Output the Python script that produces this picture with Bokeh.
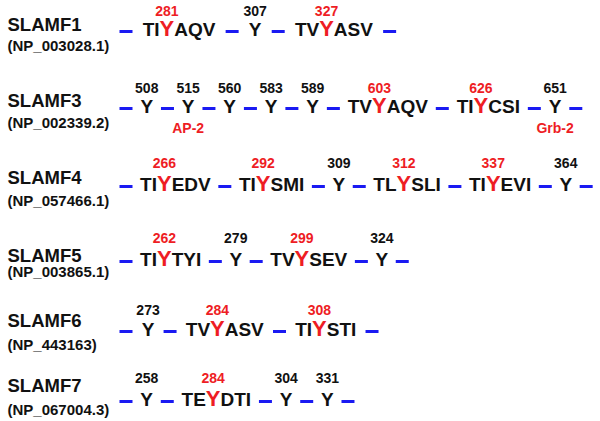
from bokeh.plotting import figure
from bokeh.models import Range1d, ColumnDataSource
from bokeh.core.properties import value
from bokeh.embed import file_html
from bokeh.resources import INLINE

# ---------------- data ----------------
PROTEINS = ["SLAMF1", "SLAMF3", "SLAMF4", "SLAMF5", "SLAMF6", "SLAMF7"]
ACCESSIONS = ["(NP_003028.1)", "(NP_002339.2)", "(NP_057466.1)",
              "(NP_003865.1)", "(NP_443163)", "(NP_067004.3)"]

SLAMF1_MOTIFS = ["TIYAQV", "Y", "TVYASV"]
SLAMF1_SITES = [281, 307, 327]
SLAMF1_ITSM = [1, 0, 1]

SLAMF3_MOTIFS = ["Y", "Y", "Y", "Y", "Y", "TVYAQV", "TIYCSI", "Y"]
SLAMF3_SITES = [508, 515, 560, 583, 589, 603, 626, 651]
SLAMF3_ITSM = [0, 0, 0, 0, 0, 1, 1, 0]

SLAMF4_MOTIFS = ["TIYEDV", "TIYSMI", "Y", "TLYSLI", "TIYEVI", "Y"]
SLAMF4_SITES = [266, 292, 309, 312, 337, 364]
SLAMF4_ITSM = [1, 1, 0, 1, 1, 0]

SLAMF5_MOTIFS = ["TIYTYI", "Y", "TVYSEV", "Y"]
SLAMF5_SITES = [262, 279, 299, 324]
SLAMF5_ITSM = [1, 0, 1, 0]

SLAMF6_MOTIFS = ["Y", "TVYASV", "TIYSTI"]
SLAMF6_SITES = [273, 284, 308]
SLAMF6_ITSM = [0, 1, 1]

SLAMF7_MOTIFS = ["Y", "TEYDTI", "Y", "Y"]
SLAMF7_SITES = [258, 284, 304, 331]
SLAMF7_ITSM = [0, 1, 0, 0]

BINDER_PROTEIN = "SLAMF3"
BINDER_SITES = [515, 651]
BINDER_NAMES = ["AP-2", "Grb-2"]

ROWS = [
    (SLAMF1_MOTIFS, SLAMF1_SITES, SLAMF1_ITSM),
    (SLAMF3_MOTIFS, SLAMF3_SITES, SLAMF3_ITSM),
    (SLAMF4_MOTIFS, SLAMF4_SITES, SLAMF4_ITSM),
    (SLAMF5_MOTIFS, SLAMF5_SITES, SLAMF5_ITSM),
    (SLAMF6_MOTIFS, SLAMF6_SITES, SLAMF6_ITSM),
    (SLAMF7_MOTIFS, SLAMF7_SITES, SLAMF7_ITSM),
]

# ---------------- layout / style ----------------
RED = "#ee1d24"
BLUE = "#1a1af2"
BLACK = "#111111"
FONT = value("Liberation Sans")
ROW_BASELINE = [37, 114, 192, 267, 337, 407]
NUM_BASELINE = [16, 93, 168, 243, 315, 383]
LABEL_BASELINE = [32, 108, 185, 263, 328, 393]
ACC_BASELINE = [51, 128, 206, 277, 350, 415]
ROW_GAP = [10.2, 7.9, 7.6, 7.6, 9.2, 7.8]
X0 = 119
DASH = 13
SEQ_PX = 19
BIG_PX = 22
NUM_PX = 14
LAB_PX = 18.5
ACC_PX = 15
K = 0.42  # renderer baseline correction (fraction of font size)
# Arial/Liberation Sans Bold advance widths (per 1000 em)
ADV = {"T": 611, "I": 278, "Y": 667, "A": 722, "Q": 778, "V": 667, "E": 667,
       "D": 722, "S": 667, "M": 833, "L": 611, "C": 722}


def width(s, px):
    return sum(ADV[c] for c in s) * px / 1000.0


def by(base, px):
    return base - K * px


seq = dict(x=[], y=[], text=[], color=[], size=[])
nums = dict(x=[], y=[], text=[], color=[])
sub = dict(x=[], y=[], text=[])
dash = dict(x0=[], x1=[], y=[])

for r, (motifs, sites, itsm) in enumerate(ROWS):
    base = ROW_BASELINE[r]
    gap = ROW_GAP[r]
    x = X0
    for m, s, red in zip(motifs, sites, itsm):
        dash["x0"].append(x); dash["x1"].append(x + DASH); dash["y"].append(base - 6)
        x += DASH + gap
        if len(m) == 1:
            w = width(m, SEQ_PX)
            seq["x"].append(x); seq["y"].append(by(base, SEQ_PX)); seq["text"].append(m)
            seq["color"].append(RED if red else BLACK); seq["size"].append(f"{SEQ_PX}px")
            cx = x + w / 2
        else:
            pre, yy, post = m[:2], m[2], m[3:]
            wp = width(pre, SEQ_PX)
            ysz = BIG_PX if red else SEQ_PX
            wy = width(yy, ysz)
            wq = width(post, SEQ_PX)
            for t, xx, c, sz in ((pre, x, BLACK, SEQ_PX),
                                 (yy, x + wp, RED if red else BLACK, ysz),
                                 (post, x + wp + wy, BLACK, SEQ_PX)):
                seq["x"].append(xx); seq["y"].append(by(base, sz)); seq["text"].append(t)
                seq["color"].append(c); seq["size"].append(f"{sz}px")
            cx = x + wp + wy / 2
            w = wp + wy + wq
        nums["x"].append(cx); nums["y"].append(by(NUM_BASELINE[r], NUM_PX))
        nums["text"].append(str(s)); nums["color"].append(RED if red else BLACK)
        if PROTEINS[r] == BINDER_PROTEIN and s in BINDER_SITES:
            sub["x"].append(cx); sub["y"].append(by(base + 19, NUM_PX))
            sub["text"].append(BINDER_NAMES[BINDER_SITES.index(s)])
        x += w + gap
    dash["x0"].append(x); dash["x1"].append(x + DASH); dash["y"].append(base - 6)

p = figure(width=600, height=421, x_range=Range1d(0, 600), y_range=Range1d(421, 0),
           x_axis_type=None, y_axis_type=None, toolbar_location=None,
           output_backend="svg", min_border=0, outline_line_color=None)
p.grid.visible = False

p.segment(x0="x0", y0="y", x1="x1", y1="y", source=ColumnDataSource(dash),
          line_color=BLUE, line_width=3, line_cap="butt")

p.text(x="x", y="y", text="text", text_color="color", text_font_size="size",
       source=ColumnDataSource(seq), text_font=FONT, text_font_style="bold",
       text_align="left", text_baseline="alphabetic")

p.text(x="x", y="y", text="text", text_color="color", source=ColumnDataSource(nums),
       text_font=FONT, text_font_style="bold", text_font_size=f"{NUM_PX}px",
       text_align="center", text_baseline="alphabetic")

p.text(x="x", y="y", text="text", source=ColumnDataSource(sub), text_color=RED,
       text_font=FONT, text_font_style="bold", text_font_size=f"{NUM_PX}px",
       text_align="center", text_baseline="alphabetic")

lab = dict(x=[7] * len(PROTEINS), y=[by(b, LAB_PX) for b in LABEL_BASELINE], text=PROTEINS)
acc = dict(x=[7] * len(ACCESSIONS), y=[by(b, ACC_PX) for b in ACC_BASELINE], text=ACCESSIONS)
p.text(x="x", y="y", text="text", source=ColumnDataSource(lab), text_color=BLACK,
       text_font=FONT, text_font_style="bold", text_font_size=f"{LAB_PX}px",
       text_align="left", text_baseline="alphabetic")
p.text(x="x", y="y", text="text", source=ColumnDataSource(acc), text_color=BLACK,
       text_font=FONT, text_font_style="bold", text_font_size=f"{ACC_PX}px",
       text_align="left", text_baseline="alphabetic")

open("out.html", "w").write(file_html(p, INLINE))
